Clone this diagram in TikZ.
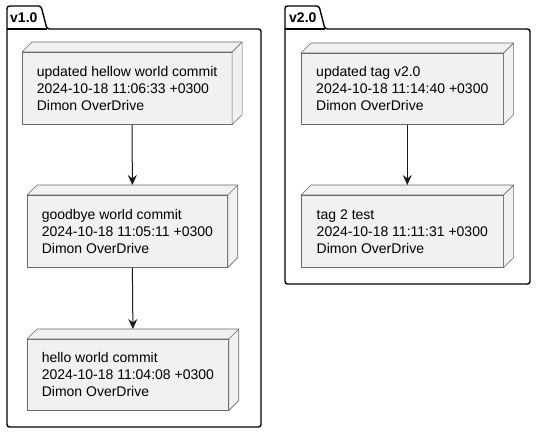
\documentclass[tikz,border=0pt]{standalone}
\usepackage{fontspec}
\setmainfont{Liberation Sans}
\usetikzlibrary{arrows.meta, positioning, calc}

\definecolor{nodefill}{HTML}{F1F1F1}
\definecolor{nodeline}{HTML}{6A6A6A}
\definecolor{flowline}{HTML}{181818}

\tikzset{
  commit/.style={draw=nodeline, fill=nodefill, line width=0.6pt, rectangle, anchor=north west,
    align=left, inner xsep=14.5pt, minimum height=72pt, font=\fontsize{14}{17}\selectfont},
  pkg/.style={draw=black, line width=1.4pt, rounded corners=2.5pt},
  pkgtitle/.style={anchor=west, inner sep=0pt, font=\fontsize{14}{17}\selectfont\bfseries},
  flow/.style={draw=flowline, line width=1pt, -{Stealth[length=10pt, width=9pt, inset=3.5pt]}}
}

\begin{document}
\begin{tikzpicture}[x=1pt, y=-1pt]
  \useasboundingbox (0,0) rectangle (536,433);

  % packages
  \draw[pkg] (7,200) -- (7,6) -- (41,6) -- (47,29) -- (261,29) -- (261,427) -- (7,427) -- cycle;
  \draw[black, line width=1.4pt] (7,29) -- (47,29);
  \node[pkgtitle] (v1) at (10,18) {v1.0};

  \draw[pkg] (285,150) -- (285,6) -- (319,6) -- (325,29) -- (530,29) -- (530,284) -- (285,284) -- cycle;
  \draw[black, line width=1.4pt] (285,29) -- (325,29);
  \node[pkgtitle] (v2) at (289,18) {v2.0};

  % commits
  \node[commit] (c1) at (22,52) {updated hellow world commit\\2024-10-18 11:06:33 +0300\\Dimon OverDrive};
  \node[commit] (c2) at (27,195) {goodbye world commit\\2024-10-18 11:05:11 +0300\\Dimon OverDrive};
  \node[commit, minimum height=71pt] (c3) at (27,339) {hello world commit\\2024-10-18 11:04:08 +0300\\Dimon OverDrive};
  \node[commit, minimum height=71pt, minimum width=202pt] (c4) at (301,53) {updated tag v2.0\\2024-10-18 11:14:40 +0300\\Dimon OverDrive};
  \node[commit, minimum width=202pt] (c5) at (301,195) {tag 2 test\\2024-10-18 11:11:31 +0300\\Dimon OverDrive};

  % depth of the boxes
  \foreach \n in {c1,c2,c3,c4,c5} {
    \draw[nodeline, fill=nodefill, line width=0.6pt, line join=round]
      (\n.north west) -- ([xshift=10pt, yshift=10pt]\n.north west)
      -- ([xshift=10pt, yshift=10pt]\n.north east) -- ([xshift=10pt, yshift=10pt]\n.south east)
      -- (\n.south east) -- (\n.north east) -- cycle;
    \draw[nodeline, line width=0.6pt] (\n.north east) -- ([xshift=10pt, yshift=10pt]\n.north east);
  }

  % history
  \draw[flow] ([xshift=5pt]c1.south) -- ([xshift=5pt, yshift=10pt]c2.north);
  \draw[flow] ([xshift=5pt]c2.south) -- ([xshift=5pt, yshift=10pt]c3.north);
  \draw[flow] ([xshift=5pt]c4.south) -- ([xshift=5pt, yshift=10pt]c5.north);
\end{tikzpicture}
\end{document}
